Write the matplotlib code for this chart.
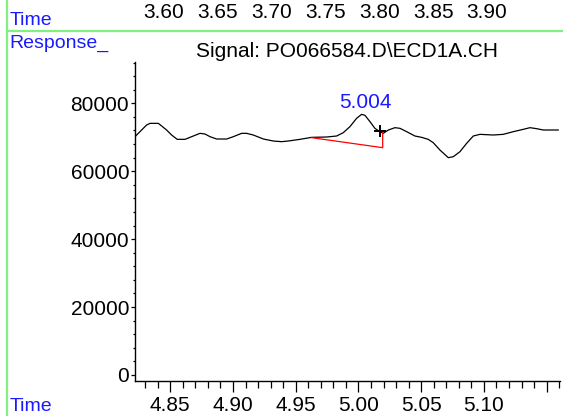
import matplotlib
matplotlib.use("Agg")
import matplotlib.pyplot as plt
from matplotlib.ticker import FixedLocator, MultipleLocator
from matplotlib.lines import Line2D

# ---- data ----
time = [4.8219, 4.8312, 4.8339, 4.8405, 4.8432, 4.8471, 4.8511, 4.8556, 4.8618,
        4.8671, 4.8737, 4.8777, 4.8817, 4.8870, 4.8950, 4.9003, 4.9069, 4.9109,
        4.9162, 4.9242, 4.9321, 4.9388, 4.9441, 4.9534, 4.9627, 4.9746, 4.9826,
        4.9879, 4.9932, 4.9985, 5.0025, 5.0052, 5.0092, 5.0131, 5.0171, 5.0198,
        5.0238, 5.0291, 5.0331, 5.0384, 5.0450, 5.0503, 5.0556, 5.0596, 5.0649,
        5.0716, 5.0756, 5.0809, 5.0862, 5.0915, 5.0968, 5.1074, 5.1154, 5.1234,
        5.1313, 5.1367, 5.1420, 5.1473, 5.1592]
response = [70180, 73615, 74106, 74106, 73320, 72143, 70670, 69394, 69394,
            70180, 71162, 70965, 70180, 69493, 69493, 70180, 71162, 71162,
            70670, 69493, 68904, 68707, 68904, 69394, 69983, 70081, 70376,
            71358, 73124, 75578, 76756, 76461, 74597, 72634, 71653, 71162,
            72143, 72830, 72634, 71653, 70376, 69983, 69394, 68413, 66254,
            63997, 64290, 65762, 68217, 70376, 70867, 70670, 70867, 71653,
            72339, 72830, 72535, 72143, 72143]

peak_label = "5.004"
peak_label_pos = (5.0052, 78500)
marker_pos = (5.0171, 71800)
baseline_t = [4.9627, 5.0193, 5.0193]
baseline_v = [69885, 66941, 71400]

x_major = [4.85, 4.90, 4.95, 5.00, 5.05, 5.10, 5.15]
x_labels = ["4.85", "4.90", "4.95", "5.00", "5.05", "5.10", ""]
y_major = [0, 20000, 40000, 60000, 80000]
top_time_labels = ["3.60", "3.65", "3.70", "3.75", "3.80", "3.85", "3.90"]
title = "Signal: PO066584.D\\ECD1A.CH"

# ---- figure ----
W, H = 563, 416
fig = plt.figure(figsize=(W / 100, H / 100), dpi=100)
plt.rcParams['font.family'] = ['Liberation Sans', 'DejaVu Sans']

def fx(px):
    return px / W

def fy(py):
    return (H - py) / H

ax = fig.add_axes([fx(134.7), fy(381), fx(560) - fx(134.7), fy(62) - fy(381)])
ax.set_xlim(4.8217, 5.1606)
ax.set_ylim(-1770, 92170)

ax.plot(time, response, color='black', lw=0.9)
ax.plot(baseline_t, baseline_v, color='red', lw=0.9)
ax.plot([marker_pos[0]], [marker_pos[1]], marker='+', color='black', ms=8, mew=1.4)
ax.text(peak_label_pos[0], peak_label_pos[1], peak_label, color='#1a1aff',
        fontsize=15, ha='center', va='baseline')

for s in ['top', 'right']:
    ax.spines[s].set_visible(False)
for s in ['left', 'bottom']:
    ax.spines[s].set_linewidth(1.0)

ax.xaxis.set_major_locator(FixedLocator(x_major))
ax.set_xticklabels(x_labels)
ax.xaxis.set_minor_locator(MultipleLocator(0.01))
ax.yaxis.set_major_locator(FixedLocator(y_major))
ax.yaxis.set_minor_locator(MultipleLocator(4000))

ax.tick_params(axis='x', which='major', direction='out', length=8, width=0.9,
               labelsize=15, pad=2.5)
ax.tick_params(axis='x', which='minor', direction='out', length=5, width=0.9)
ax.tick_params(axis='y', which='major', direction='out', length=3, width=0.9,
               labelsize=15, pad=1)
ax.tick_params(axis='y', which='minor', direction='out', length=1.5, width=0.9)

# ---- header ----
green = '#80f080'
fig.add_artist(Line2D([fx(7.5), fx(7.5)], [0, 1], color=green, lw=1.6,
                      transform=fig.transFigure))
fig.add_artist(Line2D([fx(7.5), 1], [fy(30.7), fy(30.7)], color=green, lw=1.6,
                      transform=fig.transFigure))

fig.text(fx(9.5), fy(25), "Time", color='#1a1aff', fontsize=14, ha='left', va='baseline')
fig.text(fx(9.5), fy(48.3), "Response_", color='#1a1aff', fontsize=14, ha='left', va='baseline')
fig.text(fx(9.5), 0.003, "Time", color='#1a1aff', fontsize=14, ha='left', va='bottom')

for i, lab in enumerate(top_time_labels):
    fig.text(fx(164 + 53.85 * i), fy(18.3), lab, fontsize=15, ha='center', va='baseline')

fig.text(fx(347.5), fy(56.7), title, fontsize=15, ha='center', va='baseline')

fig.savefig("out.png", dpi=100)
